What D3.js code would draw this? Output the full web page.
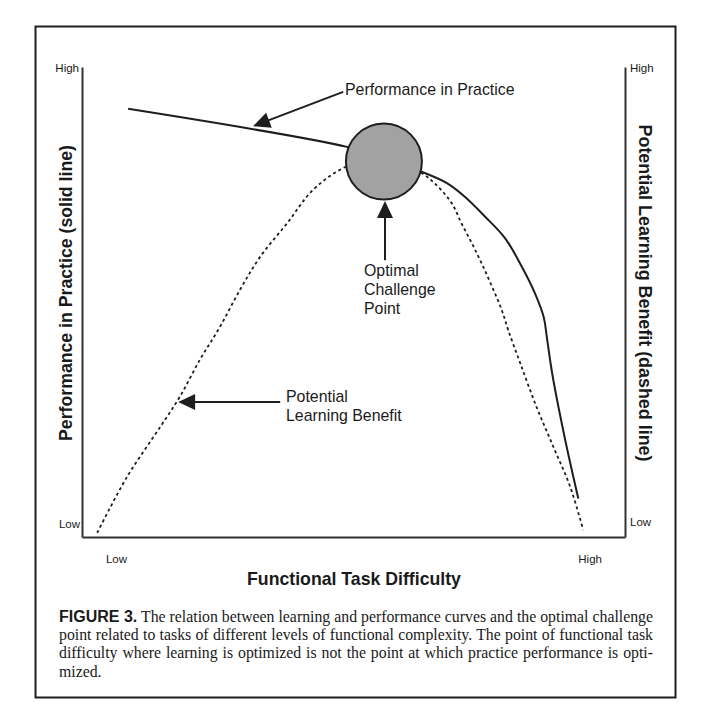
<!DOCTYPE html>
<html>
<head>
<meta charset="utf-8">
<script src="https://cdn.jsdelivr.net/npm/d3@7/dist/d3.min.js"></script>
<style>
  html, body { margin: 0; padding: 0; background: #fff; }
  svg { display: block; }
  .sans { font-family: "Liberation Sans", Arial, Helvetica, sans-serif; fill: #1a1a1a; }
  .serif { font-family: "Liberation Serif", "Times New Roman", serif; fill: #1a1a1a; }
</style>
</head>
<body>
<svg id="chart" width="713" height="721"></svg>
<script>
// ---------------- data ----------------
const yTickLabels = ["Low", "High"];
const xTickLabels = ["Low", "High"];

// Performance in Practice (solid line): functional task difficulty vs. performance (0-100)
const perfX = [8.5, 48.8, 55.6, 62.6, 67.2, 70.5, 74.2, 77.9, 81.0, 83.4, 85.0, 85.6, 86.2, 86.8, 89.0, 91.4];
const perfY = [91.1, 83.0, 80.6, 77.7, 75.3, 72.4, 68.2, 63.6, 57.5, 51.9, 46.9, 42.6, 37.7, 33.4, 20.6, 8.2];

// Potential Learning Benefit (dashed line)
const learnX = [2.8, 8.3, 14.4, 18.0, 21.7, 25.4, 29.1, 32.8, 37.8, 42.5, 48.1, 55.6, 62.6, 65.6, 68.1, 69.9, 71.8, 73.6, 75.5, 77.3, 78.5, 80.7, 83.7, 86.8, 89.9, 92.3];
const learnY = [0.9, 12.8, 23.4, 29.8, 37.7, 44.7, 52.6, 59.6, 66.8, 73.8, 78.5, 81.3, 77.4, 74.5, 71.0, 66.7, 62.5, 58.2, 53.3, 48.3, 44.0, 37.0, 27.7, 19.2, 10.7, 1.5];

// Optimal challenge point
const optimalPoint = [55.6, 79.9];

// Annotation arrows: [fromX, fromY, tipX, tipY] in data units
const arrowPerf = [48.1, 94.7, 31.5, 87.4];
const arrowOptimal = [55.8, 58.9, 55.8, 71.5];
const arrowLearn = [36.5, 28.7, 17.7, 28.7];

const captionLines = [
  ["FIGURE 3.", " The relation between learning and performance curves and the optimal challenge"],
  ["", "point related to tasks of different levels of functional complexity. The point of functional task"],
  ["", "difficulty where learning is optimized is not the point at which practice performance is opti-"],
  ["", "mized."]
];

// ---------------- layout ----------------
(function () {
const svg = d3.select("#chart");
const mLeft = 82, mRight = 625, mTop = 67, mBottom = 537;
const x = d3.scaleLinear().domain([0, 100]).range([mLeft, mRight]);
const y = d3.scaleLinear().domain([0, 100]).range([mBottom, mTop]);
const ink = "#1e1e1e";

// frame
svg.append("rect").attr("x", 35.5).attr("y", 26.5).attr("width", 640).attr("height", 671)
  .attr("fill", "none").attr("stroke", ink).attr("stroke-width", 2);

// axes (left, right, bottom) via d3 axes with no ticks
const axisL = d3.axisLeft(y).tickValues([]).tickSizeOuter(0);
const axisR = d3.axisRight(y).tickValues([]).tickSizeOuter(0);
const axisB = d3.axisBottom(x).tickValues([]).tickSizeOuter(0);
[[axisL, `translate(${mLeft},0)`], [axisR, `translate(${mRight},0)`], [axisB, `translate(0,${mBottom})`]]
  .forEach(([ax, tr]) => {
    const g = svg.append("g").attr("transform", tr).call(ax);
    g.select(".domain").attr("stroke", "#333").attr("stroke-width", 2);
  });

// tick labels
svg.append("text").attr("class", "sans").attr("x", mLeft - 3).attr("y", y(100) + 4.5)
  .attr("text-anchor", "end").attr("font-size", 11.5).text(yTickLabels[1]);
svg.append("text").attr("class", "sans").attr("x", mLeft - 2).attr("y", y(0) - 9)
  .attr("text-anchor", "end").attr("font-size", 11.5).text(yTickLabels[0]);
svg.append("text").attr("class", "sans").attr("x", mRight + 5).attr("y", y(100) + 4.5)
  .attr("text-anchor", "start").attr("font-size", 11.5).text(yTickLabels[1]);
svg.append("text").attr("class", "sans").attr("x", mRight + 5).attr("y", y(0) - 11)
  .attr("text-anchor", "start").attr("font-size", 11.5).text(yTickLabels[0]);
svg.append("text").attr("class", "sans").attr("x", x(4.4)).attr("y", mBottom + 26)
  .attr("text-anchor", "start").attr("font-size", 11.5).text(xTickLabels[0]);
svg.append("text").attr("class", "sans").attr("x", x(91.4)).attr("y", mBottom + 26)
  .attr("text-anchor", "start").attr("font-size", 11.5).text(xTickLabels[1]);

// axis titles
svg.append("text").attr("class", "sans").attr("font-weight", "bold").attr("font-size", 17.7)
  .attr("text-anchor", "middle").attr("x", 354).attr("y", 585).text("Functional Task Difficulty");
svg.append("text").attr("class", "sans").attr("font-weight", "bold").attr("font-size", 17.7)
  .attr("text-anchor", "middle").attr("transform", "translate(72,293) rotate(-90)")
  .text("Performance in Practice (solid line)");
svg.append("text").attr("class", "sans").attr("font-weight", "bold").attr("font-size", 17.9)
  .attr("text-anchor", "middle").attr("transform", "translate(639,293) rotate(90)")
  .text("Potential Learning Benefit (dashed line)");

// curves
const perfData = perfX.map((v, i) => [v, perfY[i]]);
const learnData = learnX.map((v, i) => [v, learnY[i]]);
const line = d3.line().x(d => x(d[0])).y(d => y(d[1])).curve(d3.curveCatmullRom.alpha(0.5));

svg.append("path").attr("d", line(learnData)).attr("fill", "none")
  .attr("stroke", ink).attr("stroke-width", 1.8).attr("stroke-dasharray", "3,3");
svg.append("path").attr("d", line(perfData)).attr("fill", "none")
  .attr("stroke", ink).attr("stroke-width", 2);

// optimal challenge point circle
svg.append("circle").attr("cx", x(optimalPoint[0])).attr("cy", y(optimalPoint[1])).attr("r", 38)
  .attr("fill", "#a2a2a2").attr("stroke", ink).attr("stroke-width", 2);

// arrows
function arrow(a) {
  const x0 = x(a[0]), y0 = y(a[1]), x1 = x(a[2]), y1 = y(a[3]);
  const dx = x1 - x0, dy = y1 - y0, len = Math.hypot(dx, dy);
  const ux = dx / len, uy = dy / len;
  const L = 17, W = 8;
  const bx = x1 - ux * L, by = y1 - uy * L;
  svg.append("line").attr("x1", x0).attr("y1", y0).attr("x2", bx + ux * 2).attr("y2", by + uy * 2)
    .attr("stroke", ink).attr("stroke-width", 2);
  svg.append("path")
    .attr("d", `M${x1},${y1}L${bx - uy * W},${by + ux * W}L${bx + uy * W},${by - ux * W}Z`)
    .attr("fill", ink);
}
arrow(arrowPerf);
arrow(arrowOptimal);
arrow(arrowLearn);

// annotation labels
svg.append("text").attr("class", "sans").attr("font-size", 15.9).attr("x", 345).attr("y", 95)
  .text("Performance in Practice");
["Optimal", "Challenge", "Point"].forEach((t, i) => {
  svg.append("text").attr("class", "sans").attr("font-size", 15.9).attr("x", 364).attr("y", 275.5 + i * 19).text(t);
});
["Potential", "Learning Benefit"].forEach((t, i) => {
  svg.append("text").attr("class", "sans").attr("font-size", 15.9).attr("x", 286).attr("y", 401.5 + i * 19).text(t);
});

// caption (justified)
const capLeft = 59, capRight = 653;
captionLines.forEach((parts, i) => {
  const t = svg.append("text").attr("x", capLeft).attr("y", 622 + i * 18.2).attr("font-size", 15.8);
  if (parts[0]) {
    t.append("tspan").attr("class", "sans").attr("font-weight", "bold").attr("font-size", 16).text(parts[0]);
  }
  t.append("tspan").attr("class", "serif").text(parts[1]);
  if (i < captionLines.length - 1) {
    const natural = t.node().getComputedTextLength();
    const full = parts[0] + parts[1];
    const spaces = (full.match(/ /g) || []).length;
    const ws = (capRight - capLeft - natural) / spaces;
    t.attr("word-spacing", ws);
    t.selectAll("tspan").attr("word-spacing", ws);
  }
});
})();
</script>
</body>
</html>
